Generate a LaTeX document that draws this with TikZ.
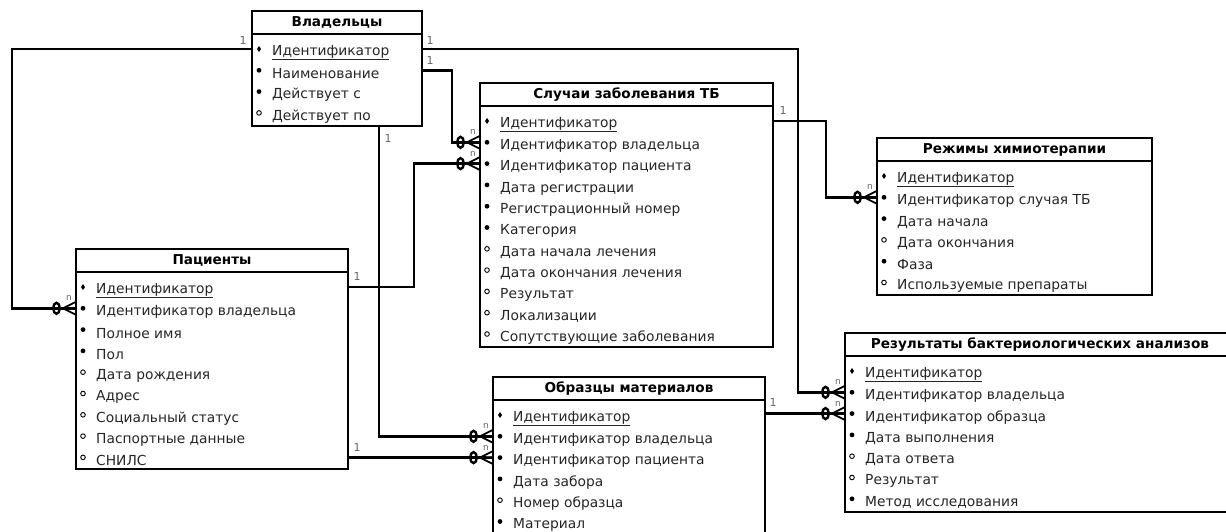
\documentclass[tikz,border=0pt]{standalone}
\usepackage{fontspec}
\setmainfont{DejaVu Sans}
\usetikzlibrary{calc}
\tikzset{
  tbl/.style={draw, line width=2.9pt},
  hdr/.style={font=\bfseries\fontsize{13.6}{15}\selectfont, inner sep=0pt},
  rowtxt/.style={anchor=west, inner sep=0pt, font=\fontsize{13.8}{16}\selectfont, text=black!85},
  conn/.style={line width=2.7pt},
  foot/.style={line width=1.8pt},
  oval/.style={line width=2.4pt},
  card/.style={font=\fontsize{11}{12}\selectfont, text=black!60, inner sep=0pt},
  nlab/.style={font=\fontsize{9}{10}\selectfont, text=black!60, inner sep=0pt},
}
% #1 name, #2 x, #3 top, #4 width, #5 bottom, #6 title, #7 rows
\newcommand\ertable[7]{%
  \coordinate (#1-nw) at (#2,#3);
  \coordinate (#1-se) at (#2+#4,#5);
  \draw[tbl] (#1-nw) rectangle (#1-se);
  \draw[tbl] (#2,#3+23) -- (#2+#4,#3+23);
  \node[hdr] (#1-title) at (#2+#4/2,#3+11.5) {#6};
  \foreach \k/\txt [count=\i] in {#7} {
    \coordinate (#1-\i) at (#2, #3+38+\i*21.3-21.3);
    \ifcase\k\relax
      \fill ($(#1-\i)+(7,0)$) +(0,-3) -- +(2,0) -- +(0,3) -- +(-2,0) -- cycle;
    \or
      \fill ($(#1-\i)+(7,0)$) circle (2.4);
    \or
      \draw[line width=0.9pt] ($(#1-\i)+(7,0)$) circle (2.3);
    \fi
    \node[rowtxt] (#1-t\i) at ($(#1-\i)+(20,3.5)$) {\ifnum\k=0 \underline{\txt}\else\txt\fi};
  }
}
\newcommand\crow[1]{%
  \draw[foot] ($(#1)+(-13,0)$) -- ($(#1)+(0,-6.5)$)
              ($(#1)+(-13,0)$) -- (#1)
              ($(#1)+(-13,0)$) -- ($(#1)+(0,6.5)$);
  \draw[oval] ($(#1)+(-19.5,0)$) ellipse [x radius=3.3, y radius=5.5];
  \node[nlab] (#1-n) at ($(#1)+(-7,-10)$) {n};
}
\begin{document}
\begin{tikzpicture}[x=1pt,y=-1pt]
\useasboundingbox (0,0) rectangle (1226,531);
\fill[white] (0,0) rectangle (1226,531);
\clip (0,0) rectangle (1226,531);

\ertable{own}{252}{11}{170}{126}{Владельцы}
  {0/Идентификатор,1/Наименование,1/Действует с,2/Действует по}
\ertable{cas}{480}{83}{293}{347}{Случаи заболевания ТБ}
  {0/Идентификатор,1/Идентификатор владельца,1/Идентификатор пациента,1/Дата регистрации,1/Регистрационный номер,1/Категория,2/Дата начала лечения,2/Дата окончания лечения,2/Результат,2/Локализации,2/Сопутствующие заболевания}
\ertable{reg}{877}{138}{275}{295}{Режимы химиотерапии}
  {0/Идентификатор,1/Идентификатор случая ТБ,1/Дата начала,2/Дата окончания,1/Фаза,2/Используемые препараты}
\ertable{pat}{76}{249}{272}{469}{Пациенты}
  {0/Идентификатор,1/Идентификатор владельца,1/Полное имя,1/Пол,2/Дата рождения,2/Адрес,2/Социальный статус,2/Паспортные данные,2/СНИЛС}
\ertable{obr}{493}{377}{272}{545}{Образцы материалов}
  {0/Идентификатор,1/Идентификатор владельца,1/Идентификатор пациента,1/Дата забора,2/Номер образца,1/Материал}
\ertable{res}{845}{333}{390}{512}{Результаты бактериологических анализов}
  {0/Идентификатор,1/Идентификатор владельца,1/Идентификатор образца,1/Дата выполнения,2/Дата ответа,2/Результат,1/Метод исследования}

% rails
\coordinate (railL) at (12,0);
\coordinate (railA) at (798,0);
\coordinate (railB) at (452,0);
\coordinate (railC) at (414,0);
\coordinate (railD) at (826,0);
\coordinate (ownbot) at (379,126);

% connectors
\draw[conn] (own-1) -- (own-1 -| railL) |- (pat-2);
\draw[conn] (own-1 -| own-se) -- (own-1 -| railA) |- (res-2);
\draw[conn] (own-2 -| own-se) -- (own-2 -| railB) |- (cas-2);
\draw[conn] (ownbot) |- (obr-2);
\draw[conn] (pat-1 -| pat-se) -- (pat-1 -| railC) |- (cas-3);
\draw[conn] (pat-9 -| pat-se) -- (obr-3);
\draw[conn] (cas-1 -| cas-se) -- (cas-1 -| railD) |- (reg-2);
\draw[conn] (obr-se |- res-3) -- (res-3);

\crow{pat-2}
\crow{res-2}
\crow{cas-2}
\crow{obr-2}
\crow{cas-3}
\crow{obr-3}
\crow{reg-2}
\crow{res-3}

% cardinality labels
\node[card] (c1) at ($(own-1)+(-9,-9)$) {1};
\node[card] (c2) at ($(own-1 -| own-se)+(8,-9)$) {1};
\node[card] (c3) at ($(own-2 -| own-se)+(8,-10)$) {1};
\node[card] (c4) at ($(ownbot)+(9,12)$) {1};
\node[card] (c5) at ($(pat-1 -| pat-se)+(9,-11)$) {1};
\node[card] (c6) at ($(pat-9 -| pat-se)+(9,-10)$) {1};
\node[card] (c7) at ($(cas-1 -| cas-se)+(10,-11)$) {1};
\node[card] (c8) at ($(obr-se |- res-3)+(8,-11)$) {1};
\end{tikzpicture}
\end{document}
